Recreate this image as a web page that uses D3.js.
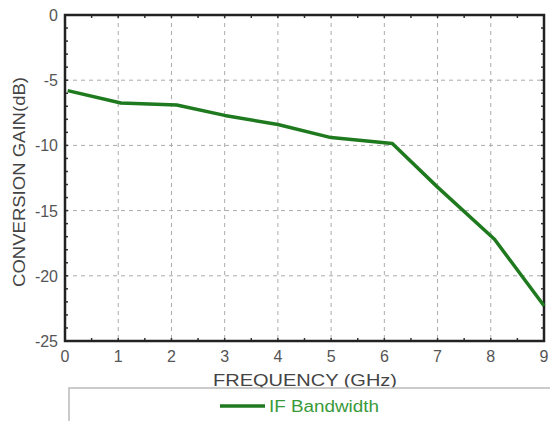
<!DOCTYPE html>
<html>
<head>
<meta charset="utf-8">
<script src="https://cdn.jsdelivr.net/npm/d3@7"></script>
<style>
  body { margin: 0; background: #fff; }
  text { font-family: "Liberation Sans", Arial, sans-serif; }
</style>
</head>
<body>
<svg id="chart" width="550" height="421"></svg>
<script>
const freq = [0.05, 1.05, 2.1, 3, 4, 5, 6.15, 7, 8.07, 9];
const gain = [-5.8, -6.75, -6.9, -7.7, -8.4, -9.4, -9.85, -13.2, -17.2, -22.3];
const xTicks = [0, 1, 2, 3, 4, 5, 6, 7, 8, 9];
const yTicks = [0, -5, -10, -15, -20, -25];
const seriesName = 'IF Bandwidth';

const svg = d3.select('#chart');
const margin = {left: 65, right: 6, top: 15, bottom: 80};
const W = 550, H = 421;

const x = d3.scaleLinear().domain([0, 9]).range([margin.left, W - margin.right]);
const y = d3.scaleLinear().domain([-25, 0]).range([H - margin.bottom, margin.top]);

const grid = svg.append('g')
  .attr('stroke', '#aaa')
  .attr('stroke-width', 1)
  .attr('stroke-dasharray', '4,4');

grid.selectAll('.gx').data(xTicks.slice(1, -1)).join('line')
  .attr('x1', d => x(d)).attr('x2', d => x(d))
  .attr('y1', y(0)).attr('y2', y(-25));

grid.selectAll('.gy').data(yTicks.slice(1, -1)).join('line')
  .attr('x1', x(0)).attr('x2', x(9))
  .attr('y1', d => y(d)).attr('y2', d => y(d));

// minor ticks inside the frame
const minorY = d3.range(-24, 0, 1);
const minorX = d3.range(0.5, 9, 0.5);
const ticks = svg.append('g').attr('stroke', '#333').attr('stroke-width', 1.5);
ticks.selectAll('.my').data(minorY).join('line')
  .attr('x1', x(0)).attr('x2', x(0) + 3)
  .attr('y1', d => y(d)).attr('y2', d => y(d));
ticks.selectAll('.my2').data(minorY).join('line')
  .attr('x1', x(9)).attr('x2', x(9) - 3)
  .attr('y1', d => y(d)).attr('y2', d => y(d));
ticks.selectAll('.mx').data(minorX).join('line')
  .attr('x1', d => x(d)).attr('x2', d => x(d))
  .attr('y1', y(0)).attr('y2', y(0) + 3);
ticks.selectAll('.mx2').data(minorX).join('line')
  .attr('x1', d => x(d)).attr('x2', d => x(d))
  .attr('y1', y(-25)).attr('y2', y(-25) - 3);

// frame
svg.append('rect')
  .attr('x', x(0)).attr('y', y(0))
  .attr('width', x(9) - x(0)).attr('height', y(-25) - y(0))
  .attr('fill', 'none').attr('stroke', '#222').attr('stroke-width', 2.5);

// tick labels
svg.append('g').selectAll('text').data(xTicks).join('text')
  .attr('x', d => x(d)).attr('y', y(-25) + 21)
  .attr('text-anchor', 'middle')
  .attr('font-size', 16).attr('fill', '#555')
  .text(d => d);

svg.append('g').selectAll('text').data(yTicks).join('text')
  .attr('x', x(0) - 7).attr('y', d => y(d) + 6)
  .attr('text-anchor', 'end')
  .attr('font-size', 16).attr('fill', '#555')
  .text(d => d);

// axis titles
svg.append('text')
  .attr('x', 305).attr('y', 386)
  .attr('text-anchor', 'middle')
  .attr('font-size', 17).attr('fill', '#444')
  .attr('textLength', 184).attr('lengthAdjust', 'spacingAndGlyphs')
  .text('FREQUENCY (GHz)');

svg.append('text')
  .attr('transform', `translate(25,182) rotate(-90)`)
  .attr('text-anchor', 'middle')
  .attr('font-size', 17).attr('fill', '#444')
  .attr('textLength', 210).attr('lengthAdjust', 'spacingAndGlyphs')
  .text('CONVERSION GAIN(dB)');

// the curve
const line = d3.line().x((d, i) => x(freq[i])).y(d => y(d));
svg.append('path')
  .datum(gain)
  .attr('d', line)
  .attr('fill', 'none')
  .attr('stroke', '#1f7a1f')
  .attr('stroke-width', 3.5)
  .attr('stroke-linejoin', 'round');

// legend box
svg.append('rect')
  .attr('x', 69).attr('y', 388)
  .attr('width', 500).attr('height', 50)
  .attr('fill', '#fff').attr('stroke', '#bbb').attr('stroke-width', 1.5);

svg.append('line')
  .attr('x1', 220).attr('x2', 265)
  .attr('y1', 406).attr('y2', 406)
  .attr('stroke', '#1f7a1f').attr('stroke-width', 3.5);

svg.append('text')
  .attr('x', 269).attr('y', 412)
  .attr('font-size', 16).attr('fill', '#3a9a3a')
  .attr('textLength', 110).attr('lengthAdjust', 'spacingAndGlyphs')
  .text(seriesName);
</script>
</body>
</html>
